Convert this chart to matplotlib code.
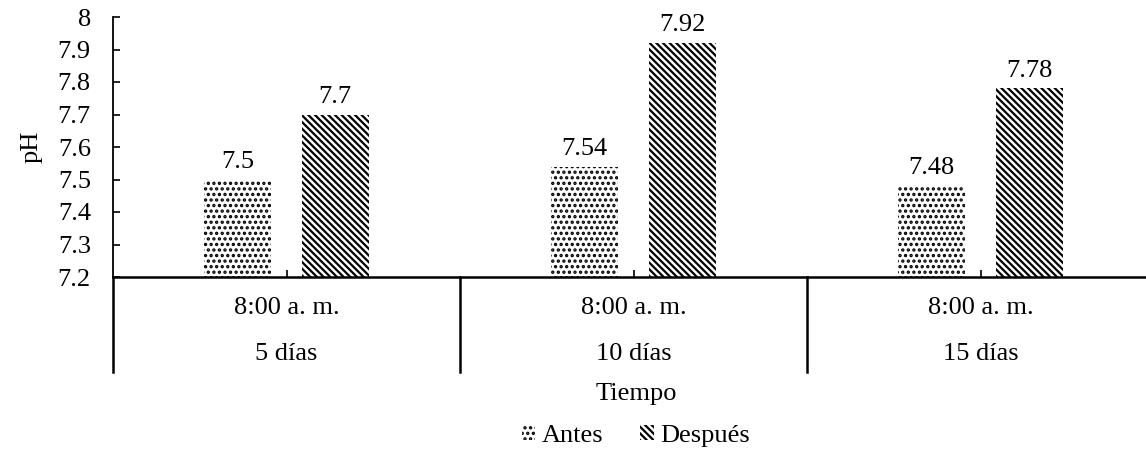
import matplotlib.pyplot as plt
from matplotlib import transforms

# datos de pH por muestreo
grupos = ['5 días', '10 días', '15 días']
hora = ['8:00 a. m.', '8:00 a. m.', '8:00 a. m.']
antes = [7.5, 7.54, 7.48]
despues = [7.7, 7.92, 7.78]
yticks = [7.2, 7.3, 7.4, 7.5, 7.6, 7.7, 7.8, 7.9, 8]

plt.rcParams['font.family'] = ['Liberation Serif', 'DejaVu Serif']
plt.rcParams['hatch.linewidth'] = 1.6
FS = 19

W, H = 1146, 450
fig = plt.figure(figsize=(W / 100, H / 100), dpi=100)
# el eje sigue un poco más allá del borde derecho
ax = fig.add_axes([113 / W, (H - 277) / H, 3 * 347 / W, 260 / H])

x = list(range(len(grupos)))
ancho = 0.193
xa = [i - 0.141 for i in x]
xd = [i + 0.14 for i in x]
b1 = ax.bar(xa, [v - 7.2 for v in antes], ancho, bottom=7.2, color='white',
            edgecolor='black', linewidth=0, hatch='...', label='Antes')
b2 = ax.bar(xd, [v - 7.2 for v in despues], ancho, bottom=7.2, color='white',
            edgecolor='black', linewidth=0, hatch='\\' * 5, label='Después')

for xs, vals in ((xa, antes), (xd, despues)):
    for xi, v in zip(xs, vals):
        ax.annotate(f'{v:g}', (xi, v), xytext=(0, 5), textcoords='offset points',
                    ha='center', va='bottom', fontsize=FS)

ax.set_xlim(-0.5, 2.5)
ax.set_ylim(7.2, 8)
ax.set_yticks(yticks)
ax.set_yticklabels([f'{t:g}' for t in yticks], fontsize=FS)
ax.set_xticks(x)
ax.set_xticklabels([])
ax.tick_params(axis='x', direction='in', length=5, width=1.2)
ax.tick_params(axis='y', direction='in', length=5, width=1.2, pad=16)
for s in ('top', 'right'):
    ax.spines[s].set_visible(False)
ax.spines['left'].set_linewidth(1.3)
ax.spines['bottom'].set_linewidth(1.8)
ax.set_ylabel('pH', fontsize=FS, labelpad=11)

# eje de categorías en dos niveles
tr = transforms.blended_transform_factory(ax.transData, fig.transFigure)
for i in x:
    ax.text(i, 1 - 308 / H, hora[i], transform=tr, ha='center', va='center', fontsize=FS)
    ax.text(i, 1 - 354 / H, grupos[i], transform=tr, ha='center', va='center', fontsize=FS)
for xs in (-0.5, 0.5, 1.5):
    ax.plot([xs, xs], [1 - 277 / H, 1 - 372 / H], transform=tr, color='black',
            linewidth=1.8, clip_on=False)

fig.text(636 / W, 1 - 394 / H, 'Tiempo', ha='center', va='center', fontsize=FS)
fig.legend(handles=[b1, b2], loc='center', bbox_to_anchor=(636 / W, 1 - 436 / H),
           ncol=2, frameon=False, fontsize=FS, handlelength=0.5, handleheight=0.5,
           handletextpad=0.25, columnspacing=1.4)

fig.savefig('out.png', dpi=100)
